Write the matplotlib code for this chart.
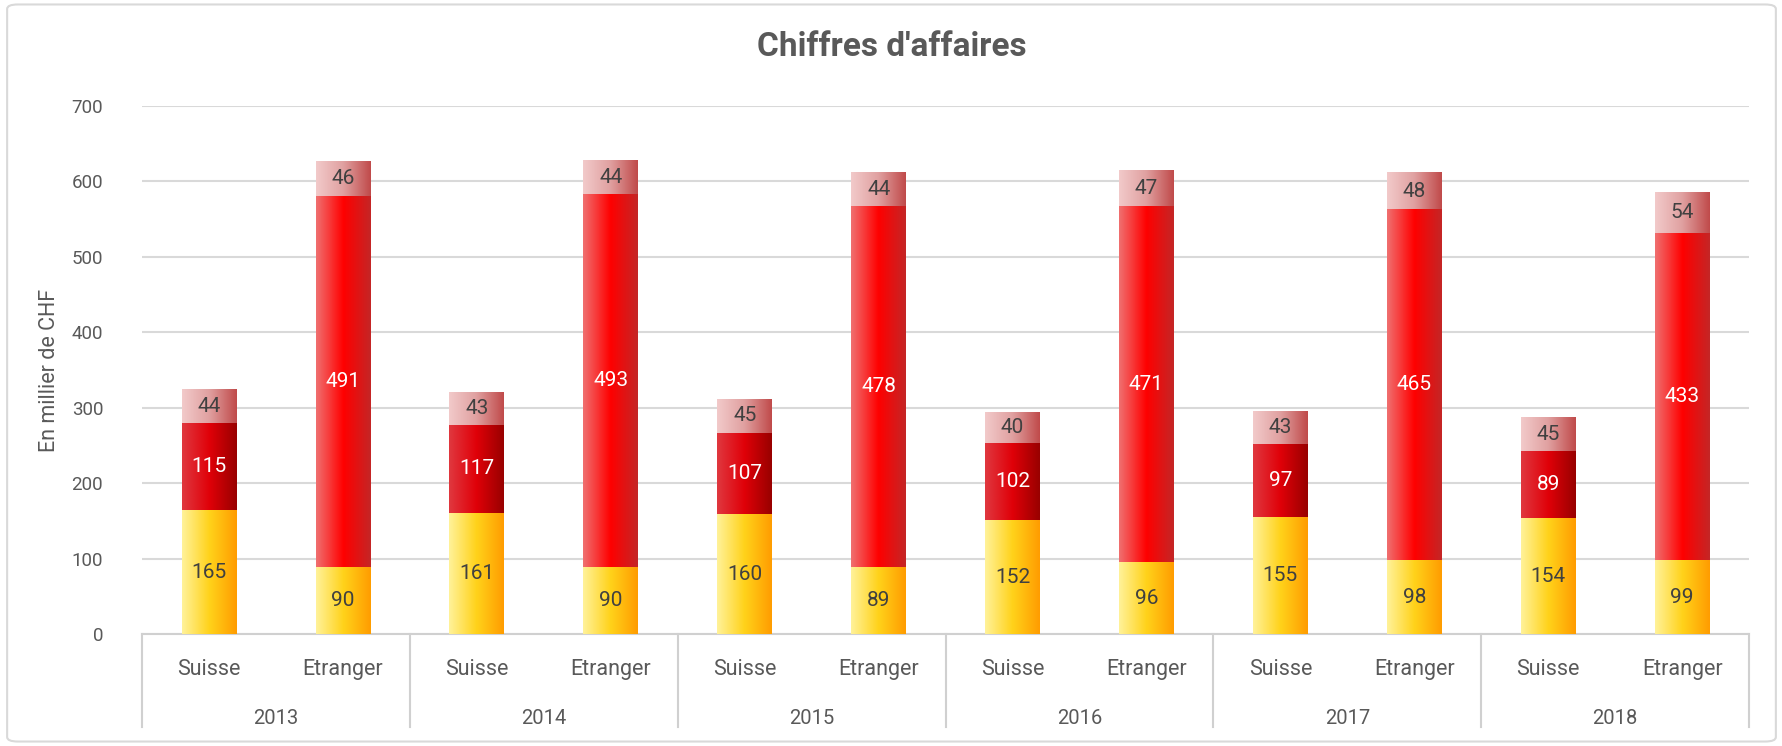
import numpy as np
import matplotlib.pyplot as plt
from matplotlib.colors import LinearSegmentedColormap
from matplotlib.patches import FancyBboxPatch
import matplotlib.transforms as mtransforms

plt.rcParams['font.family'] = ['Roboto', 'DejaVu Sans']

years = ['2013', '2014', '2015', '2016', '2017', '2018']
regions = ['Suisse', 'Etranger']

# Suisse
suisse_bas = [165, 161, 160, 152, 155, 154]
suisse_mil = [115, 117, 107, 102, 97, 89]
suisse_haut = [44, 43, 45, 40, 43, 45]
# Etranger
etr_bas = [90, 90, 89, 96, 98, 99]
etr_mil = [491, 493, 478, 471, 465, 433]
etr_haut = [46, 44, 44, 47, 48, 54]

gris = '#595959'

# gradients (gauche -> droite)
grad_jaune = LinearSegmentedColormap.from_list('j', ['#FFF29A', '#FFD21A', '#FF9C00'])
grad_rouge_fonce = LinearSegmentedColormap.from_list('rf', ['#E0383F', '#E00008', '#980000'])
grad_rouge = LinearSegmentedColormap.from_list('r', ['#F07070', '#FF0000', '#C42626'])
grad_rose = LinearSegmentedColormap.from_list('p', ['#F2CACA', '#E0A0A0', '#C04A4A'])

bas, mil, haut = [], [], []
for i in range(len(years)):
    bas += [suisse_bas[i], etr_bas[i]]
    mil += [suisse_mil[i], etr_mil[i]]
    haut += [suisse_haut[i], etr_haut[i]]
x = np.arange(len(bas))

fig = plt.figure(figsize=(17.83, 7.46), dpi=100)
ax = fig.add_axes([0.0797, 0.1495, 0.981 - 0.0797, 0.858 - 0.1495])

largeur = 0.41
b1 = ax.bar(x, bas, largeur, color='none', zorder=3)
b2 = ax.bar(x, mil, largeur, bottom=bas, color='none', zorder=3)
b3 = ax.bar(x, haut, largeur, bottom=np.array(bas) + np.array(mil), color='none', zorder=3)

gradient = np.linspace(0, 1, 256).reshape(1, -1)


def peindre(barres, cmaps):
    for rect, cm in zip(barres, cmaps):
        x0, y0 = rect.get_x(), rect.get_y()
        ax.imshow(gradient, cmap=cm, aspect='auto', interpolation='bicubic',
                  extent=(x0, x0 + rect.get_width(), y0, y0 + rect.get_height()),
                  zorder=3)


peindre(b1, [grad_jaune] * len(x))
peindre(b2, [grad_rouge_fonce if i % 2 == 0 else grad_rouge for i in range(len(x))])
peindre(b3, [grad_rose] * len(x))


def etiquettes(barres, valeurs, couleur):
    for rect, v in zip(barres, valeurs):
        ax.text(rect.get_x() + rect.get_width() / 2, rect.get_y() + rect.get_height() / 2,
                str(v), ha='center', va='center', color=couleur, fontsize=15, zorder=4)


etiquettes(b1, bas, '#404040')
etiquettes(b2, mil, 'white')
etiquettes(b3, haut, '#404040')

ax.set_xlim(-0.5, len(x) - 0.5)
ax.set_ylim(0, 700)
ax.set_yticks(range(0, 701, 100))
ax.tick_params(axis='y', length=0, labelsize=13.5, labelcolor=gris, pad=28)
ax.set_xticks([])
ax.grid(axis='y', color='#D9D9D9', linewidth=1.5, zorder=0)
for s in ['top', 'right', 'left']:
    ax.spines[s].set_visible(False)
ax.spines['bottom'].set_color('#D0D0D0')
ax.spines['bottom'].set_linewidth(1.5)
ax.set_ylabel('En millier de CHF', fontsize=15.5, color=gris, labelpad=8)

# axe x a deux niveaux
trans = mtransforms.blended_transform_factory(ax.transData, ax.transAxes)
for i, xi in enumerate(x):
    ax.text(xi, -0.066, regions[i % 2], transform=trans, ha='center', va='center',
            fontsize=15.5, color=gris)
for j, an in enumerate(years):
    ax.text(2 * j + 0.5, -0.159, an, transform=trans, ha='center', va='center',
            fontsize=14.5, color=gris)
for k in range(len(years) + 1):
    ax.plot([2 * k - 0.5, 2 * k - 0.5], [0, -0.175], transform=trans,
            color='#D0D0D0', linewidth=1.5, clip_on=False)

fig.text(0.5, 0.937, "Chiffres d'affaires", ha='center', va='center',
         fontsize=24, fontweight='bold', color=gris)

cadre = FancyBboxPatch((0.004, 0.006), 0.992, 0.988, boxstyle='round,pad=0,rounding_size=0.006',
                       transform=fig.transFigure, facecolor='none', edgecolor='#D9D9D9',
                       linewidth=1.5)
fig.patches.append(cadre)

plt.savefig('out.png', dpi=100)
